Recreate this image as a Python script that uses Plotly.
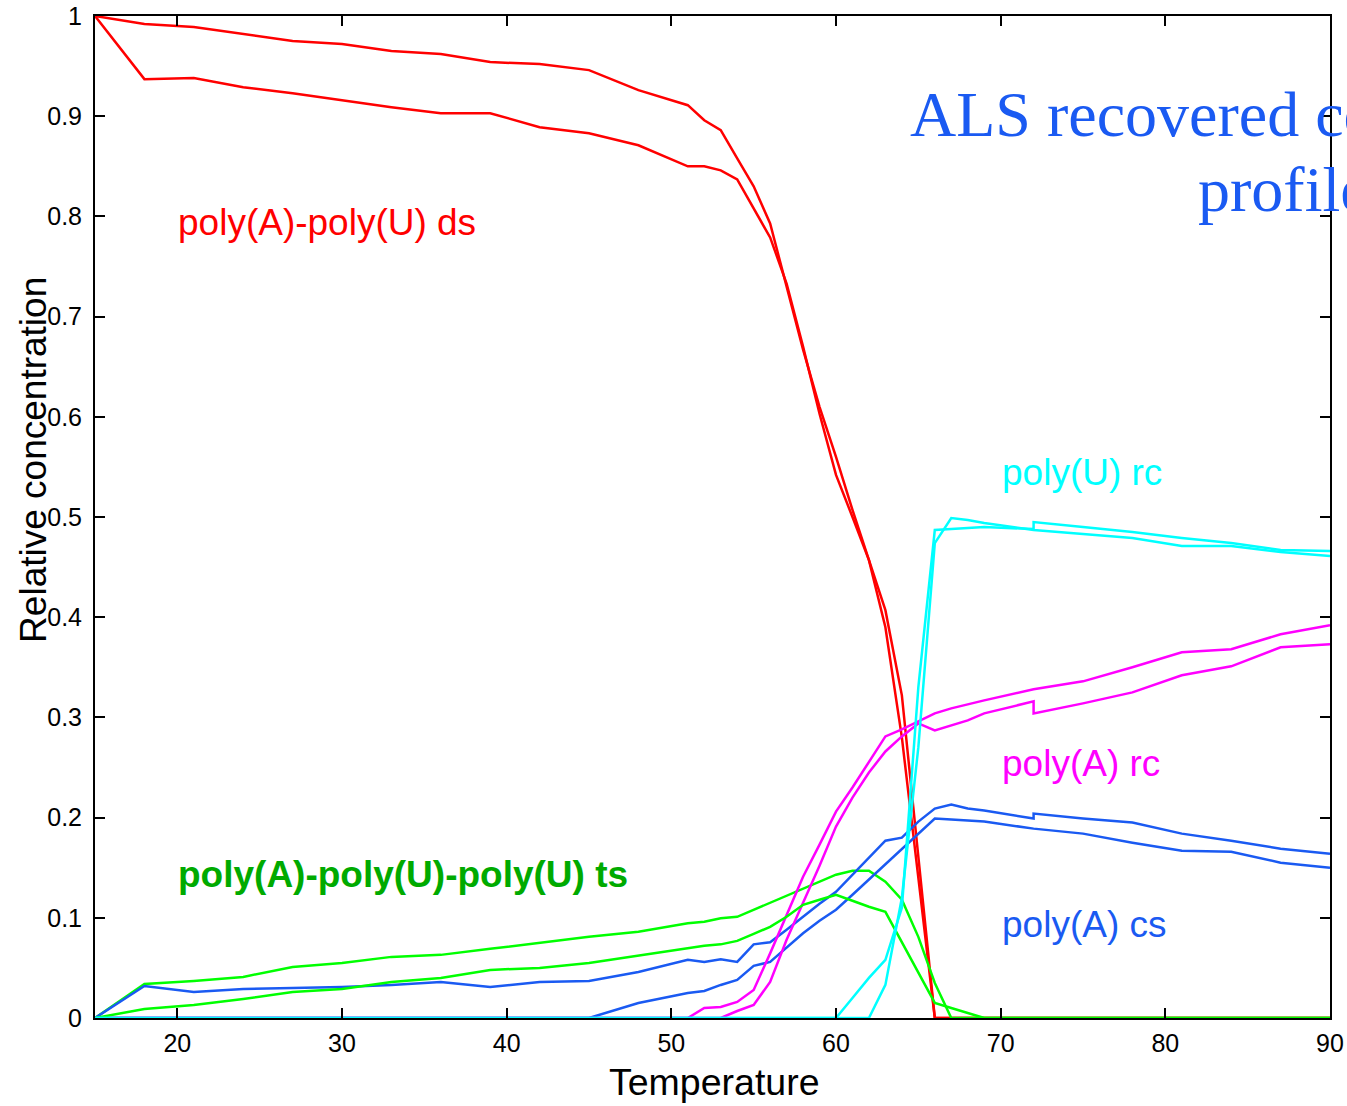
import plotly.graph_objects as go

# Temperature grid (shared) and grid with duplicated 72 for the spliced series
T = [15, 18, 21, 24, 27, 30, 33, 36, 39, 42, 45, 48,
     51, 52, 53, 54, 55, 56, 57, 58, 59, 60, 61, 62, 63, 64, 65, 66, 67, 68, 69,
     72, 75, 78, 81, 84, 87, 90]
T_SPLICED = T[:32] + [72] + T[32:]

ds_1 = [1.000, 0.992, 0.989, 0.982, 0.975, 0.972, 0.965, 0.962, 0.954, 0.952, 0.946, 0.926,
        0.911, 0.896, 0.886, 0.858, 0.830, 0.793, 0.730, 0.667, 0.610, 0.560, 0.507, 0.457, 0.407, 0.322, 0.160, 0.0, 0.0, 0.0, 0.0,
        0.0, 0.0, 0.0, 0.0, 0.0, 0.0, 0.0]
ds_2 = [1.000, 0.937, 0.938, 0.929, 0.923, 0.916, 0.909, 0.903, 0.903, 0.889, 0.883, 0.871,
        0.850, 0.850, 0.846, 0.837, 0.808, 0.779, 0.733, 0.670, 0.603, 0.542, 0.500, 0.457, 0.390, 0.280, 0.140, 0.0, 0.0, 0.0, 0.0,
        0.0, 0.0, 0.0, 0.0, 0.0, 0.0, 0.0]

ts_1 = [0.0, 0.034, 0.037, 0.041, 0.051, 0.055, 0.061, 0.063, 0.069, 0.075, 0.081, 0.086,
        0.0945, 0.096, 0.0995, 0.101, 0.108, 0.115, 0.122, 0.129, 0.136, 0.143, 0.147, 0.147, 0.136, 0.118, 0.081, 0.035, 0.0, 0.0, 0.0,
        0.0, 0.0, 0.0, 0.0, 0.0, 0.0, 0.0]
ts_2 = [0.0, 0.009, 0.013, 0.019, 0.026, 0.029, 0.036, 0.040, 0.048, 0.050, 0.055, 0.062,
        0.0695, 0.072, 0.0735, 0.077, 0.084, 0.091, 0.101, 0.113, 0.118, 0.123, 0.117, 0.111, 0.106, 0.076, 0.045, 0.015, 0.010, 0.005, 0.0,
        0.0, 0.0, 0.0, 0.0, 0.0, 0.0, 0.0]

cs_1 = [0.0, 0.032, 0.026, 0.029, 0.030, 0.031, 0.033, 0.036, 0.031, 0.036, 0.037, 0.046,
        0.058, 0.056, 0.0586, 0.056, 0.0735, 0.0755, 0.088, 0.101, 0.114, 0.126, 0.143, 0.160, 0.177, 0.180, 0.196, 0.209, 0.213, 0.209, 0.207,
        0.199, 0.204, 0.199, 0.195, 0.184, 0.177, 0.169, 0.164]
cs_2 = [0.0, 0.0, 0.0, 0.0, 0.0, 0.0, 0.0, 0.0, 0.0, 0.0, 0.0, 0.015,
        0.025, 0.027, 0.033, 0.038, 0.052, 0.056, 0.070, 0.0845, 0.097, 0.108, 0.123, 0.138, 0.153, 0.168, 0.183, 0.199, 0.198, 0.197, 0.196,
        0.189, 0.184, 0.175, 0.167, 0.166, 0.155, 0.150]

rcA_1 = [0.0] * 12 + [0.0, 0.010, 0.011, 0.016, 0.028, 0.0645, 0.103, 0.141, 0.173, 0.206, 0.230, 0.256, 0.281, 0.288, 0.296, 0.304, 0.309, 0.313, 0.317,
                      0.328, 0.336, 0.350, 0.365, 0.368, 0.383, 0.392]
rcA_2 = [0.0] * 12 + [0.0, 0.0, 0.0, 0.007, 0.013, 0.036, 0.078, 0.115, 0.152, 0.191, 0.220, 0.245, 0.266, 0.281, 0.294, 0.287, 0.292, 0.297, 0.304,
                      0.316, 0.304, 0.314, 0.325, 0.342, 0.351, 0.370, 0.373]

rcU_1 = [0.0] * 12 + [0.0] * 12 + [0.033, 0.120, 0.270, 0.474, 0.499, 0.497, 0.494,
                                   0.487, 0.483, 0.479, 0.471, 0.471, 0.465, 0.461]
rcU_2 = [0.0] * 12 + [0.0] * 10 + [0.020, 0.040, 0.058, 0.110, 0.330, 0.487, 0.488, 0.489, 0.490,
                                   0.488, 0.495, 0.490, 0.485, 0.479, 0.474, 0.467, 0.466]

X_TICKS = [20, 30, 40, 50, 60, 70, 80, 90]
Y_TICKS = [0, 0.1, 0.2, 0.3, 0.4, 0.5, 0.6, 0.7, 0.8, 0.9, 1]
Y_TICKTEXT = ["0", "0.1", "0.2", "0.3", "0.4", "0.5", "0.6", "0.7", "0.8", "0.9", "1"]

RED = "#FF0000"
GREEN = "#00FF00"
BLUE = "#1A5AF2"
MAGENTA = "#FF00FF"
CYAN = "#00FFFF"
GREEN_TXT = "#00AA00"

SANS = "Liberation Sans, Arial, Helvetica, sans-serif"
SERIF = "Liberation Serif, Times New Roman, serif"

series = [
    (T, ds_1, RED), (T, ds_2, RED),
    (T, ts_1, GREEN),
    (T_SPLICED, cs_1, BLUE), (T, cs_2, BLUE),
    (T, rcA_1, MAGENTA), (T_SPLICED, rcA_2, MAGENTA),
    (T, ts_2, GREEN),
    (T, rcU_1, CYAN), (T_SPLICED, rcU_2, CYAN),
]

fig = go.Figure()
for xs, ys, col in series:
    fig.add_trace(go.Scatter(x=xs, y=ys, mode="lines",
                             line=dict(color=col, width=2.5),
                             showlegend=False, hoverinfo="skip", cliponaxis=False))

labels = [
    ("poly(A)-poly(U) ds", 19.92, 0.794, RED, False),
    ("poly(A)-poly(U)-poly(U) ts", 19.92, 0.1432, GREEN_TXT, True),
    ("poly(U) rc", 69.95, 0.5444, CYAN, False),
    ("poly(A) rc", 69.95, 0.2535, MAGENTA, False),
    ("poly(A) cs", 69.95, 0.0935, BLUE, False),
]
for txt, x, y, col, bold in labels:
    fig.add_annotation(x=x, y=y, xref="x", yref="y", text=("<b>%s</b>" % txt) if bold else txt,
                       showarrow=False, xanchor="left", yanchor="middle",
                       font=dict(family=SANS, size=37, color=col))

# Title (runs past the right edge of the page, as in the reference)
fig.add_annotation(x=64.35, y=0.902, xref="x", yref="y", text="ALS recovered concentration",
                   showarrow=False, xanchor="left", yanchor="middle",
                   font=dict(family=SERIF, size=64, color=BLUE))
fig.add_annotation(x=81.85, y=0.8266, xref="x", yref="y", text="profiles",
                   showarrow=False, xanchor="left", yanchor="middle",
                   font=dict(family=SERIF, size=64, color=BLUE))

# Axis titles
fig.add_annotation(x=0.5017, y=-0.0634, xref="paper", yref="paper", text="Temperature",
                   showarrow=False, xanchor="center", yanchor="middle",
                   font=dict(family=SANS, size=37.5, color="black"))
fig.add_annotation(x=-0.0494, y=0.557, xref="paper", yref="paper", text="Relative concentration",
                   showarrow=False, xanchor="center", yanchor="middle", textangle=-90,
                   font=dict(family=SANS, size=37, color="black"))

fig.update_layout(
    width=1347, height=1106,
    margin=dict(l=95, r=17, t=16, b=88, pad=0, autoexpand=False),
    paper_bgcolor="white", plot_bgcolor="white",
    font=dict(family=SANS, color="black"),
)
fig.update_xaxes(range=[15, 90], tickvals=X_TICKS, ticks="inside", ticklen=10, tickwidth=1.5,
                 tickcolor="black", showline=True, linecolor="black", linewidth=2, mirror="ticks",
                 showgrid=False, zeroline=False, automargin=False, ticklabelstandoff=2,
                 tickfont=dict(family=SANS, size=25, color="black"))
fig.update_yaxes(range=[0, 1], tickvals=Y_TICKS, ticktext=Y_TICKTEXT, ticks="inside", ticklen=10, tickwidth=1.5,
                 tickcolor="black", showline=True, linecolor="black", linewidth=2, mirror="ticks",
                 showgrid=False, zeroline=False, automargin=False, ticklabelstandoff=6,
                 tickfont=dict(family=SANS, size=25, color="black"))

fig.write_html("out.html")
